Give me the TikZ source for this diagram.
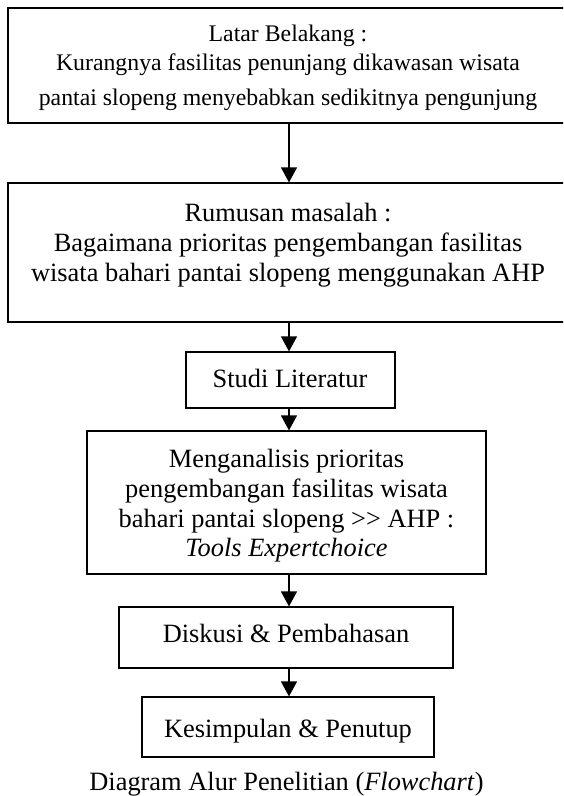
\documentclass[tikz,border=0pt]{standalone}
\usepackage{fontspec}
\setmainfont{Liberation Serif}
\usetikzlibrary{arrows.meta}
\begin{document}
\begin{tikzpicture}[x=1pt,y=-1pt,
  box/.style={draw, line width=1.2pt, inner sep=0pt},
  txt/.style={anchor=base, inner sep=0pt, font=\fontsize{26.4}{30}\selectfont},
  txtsmall/.style={anchor=base, inner sep=0pt, font=\fontsize{23.8}{28}\selectfont},
  arr/.style={line width=1.3pt, -{Triangle[width=16pt,length=15pt]}}]
\useasboundingbox (0,0) rectangle (563,796);
\clip (0,0) rectangle (563,796);
\fill[white] (0,0) rectangle (563,796);
% boxes
\node[box, minimum width=562pt, minimum height=115pt] (b1) at (289,65.5) {};
\node[box, minimum width=562pt, minimum height=139pt] (b2) at (289,252.5) {};
\node[box, minimum width=209pt, minimum height=56pt] (b3) at (290.5,380) {};
\node[box, minimum width=399pt, minimum height=143pt] (b4) at (286.5,502.5) {};
\node[box, minimum width=334pt, minimum height=61pt] (b5) at (286,637.5) {};
\node[box, minimum width=292pt, minimum height=60pt] (b6) at (288,727) {};
% texts
\node[txtsmall] (t1a) at (288,41) {Latar Belakang :};
\node[txtsmall] (t1b) at (288,70) {Kurangnya fasilitas penunjang dikawasan wisata};
\node[txtsmall] (t1c) at (288,105) {pantai slopeng menyebabkan sedikitnya pengunjung};
\node[txt] (t2a) at (288,221) {Rumusan masalah :};
\node[txt] (t2b) at (288,251) {Bagaimana prioritas pengembangan fasilitas};
\node[txt] (t2c) at (288,281) {wisata bahari pantai slopeng menggunakan AHP};
\node[txt] (t3) at (290,387) {Studi Literatur};
\node[txt] (t4a) at (286.5,467) {Menganalisis prioritas};
\node[txt] (t4b) at (286.5,497) {pengembangan fasilitas wisata};
\node[txt] (t4c) at (286.5,527) {bahari pantai slopeng >{}> AHP :};
\node[txt] (t4d) at (286.5,556) {\itshape Tools Expertchoice};
\node[txt] (t5) at (286,642) {Diskusi \& Pembahasan};
\node[txt] (t6) at (288,737) {Kesimpulan \& Penutup};
\node[txt] (cap) at (286.5,790) {Diagram Alur Penelitian (\textit{Flowchart})};
% connectors
\coordinate (ax) at (289,0);
\draw[arr] (b1.south -| ax) -- (b2.north -| ax);
\draw[arr] (b2.south -| ax) -- (b3.north -| ax);
\draw[arr] (b3.south -| ax) -- (b4.north -| ax);
\draw[arr] (b4.south -| ax) -- (b5.north -| ax);
\draw[arr] (b5.south -| ax) -- (b6.north -| ax);
\end{tikzpicture}
\end{document}
